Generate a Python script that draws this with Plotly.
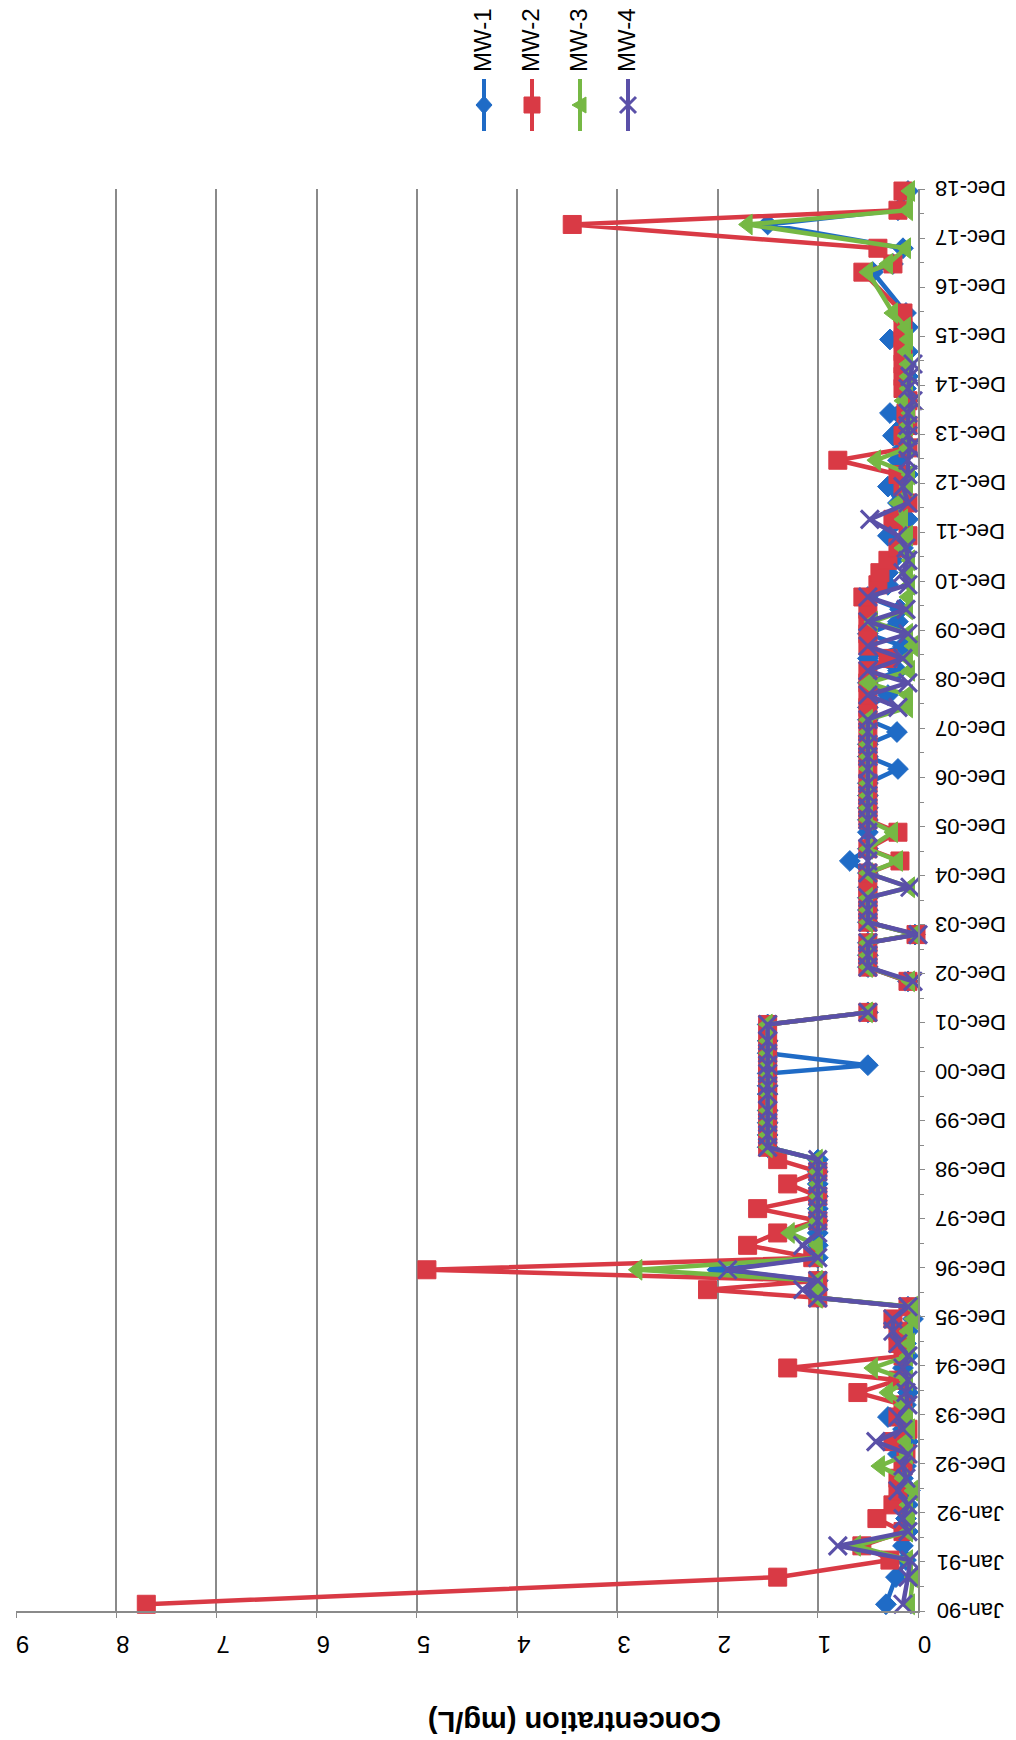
import pandas as pd
import plotly.graph_objects as go

# Monitoring-well sampling events (shared sample dates; None = no result)
sample_dates = [
    "1990-02-20", "1990-09-10", "1991-01-15", "1991-05-01", "1991-08-15", "1991-11-20",
    "1992-03-01", "1992-06-15", "1992-09-15", "1992-12-15", "1993-03-15", "1993-06-15",
    "1993-09-15", "1993-12-15", "1994-03-15", "1994-06-15", "1994-09-15", "1994-12-15",
    "1995-03-15", "1995-06-15", "1995-09-15", "1995-12-15",
    "1996-03-15", "1996-05-20", "1996-07-20", "1996-09-25", "1996-12-15", "1997-03-15",
    "1997-06-15", "1997-09-15", "1997-12-15", "1998-03-15", "1998-06-15", "1998-09-15",
    "1998-12-15", "1999-03-15", "1999-06-15", "1999-09-15", "1999-12-15", "2000-03-15",
    "2000-07-15", "2000-09-15", "2000-12-15", "2001-02-15", "2001-05-15", "2001-08-15",
    "2001-12-15",
    "2002-03-15", "2002-07-15", "2002-11-01", "2003-02-15", "2003-05-15", "2003-08-15",
    "2003-10-15", "2004-01-15", "2004-04-15", "2004-07-15", "2004-10-01", "2005-01-15",
    "2005-04-15", "2005-07-15", "2005-11-15", "2006-02-15", "2006-05-15", "2006-08-15",
    "2006-11-15", "2007-03-01", "2007-06-01", "2007-09-01", "2007-12-01", "2008-03-01",
    "2008-06-01", "2008-09-01", "2008-12-01", "2009-03-01", "2009-06-01", "2009-09-01",
    "2009-12-01", "2010-03-01", "2010-06-01", "2010-09-01", "2010-12-01",
    "2011-03-01", "2011-06-01", "2011-09-01", "2011-12-01", "2012-04-01", "2012-08-01",
    "2012-12-01", "2013-03-01", "2013-06-15", "2013-09-15", "2013-12-15", "2014-03-01",
    "2014-06-01", "2014-09-01", "2014-12-01", "2015-03-01", "2015-06-01", "2015-09-01",
    "2015-12-01", "2016-03-01", "2016-06-15", "2017-04-15", "2017-06-15", "2017-10-10",
    "2018-04-05", "2018-07-20", "2018-12-10",
]

mw1 = [
    0.32, 0.22, 0.12, 0.15, 0.10, 0.12,
    0.10, 0.08, 0.15, 0.12, 0.20, 0.10,
    0.15, 0.30, 0.12, 0.10, 0.18, 0.15,
    0.10, 0.12, 0.10, 0.05,
    0.10, 1.0, 1.0, 1.0, 2.0, 1.0,
    1.0, 1.0, 1.0, 1.0, 1.0, 1.0,
    1.0, 1.0, 1.5, 1.5, 1.5, 1.5,
    1.5, 1.5, 1.5, 0.5, 1.5, 1.5,
    1.5,
    0.5, None, 0.10, 0.5, 0.5, 0.5,
    0.03, 0.5, 0.5, 0.5, 0.5, 0.5,
    0.68, 0.5, 0.5, 0.5, 0.5, 0.5,
    0.5, 0.20, 0.5, 0.5, 0.21, 0.5,
    0.5, 0.30, 0.5, 0.20, 0.5, 0.15,
    0.5, 0.20, 0.18, 0.5, 0.30,
    0.30, 0.25, 0.15, 0.30, 0.10, 0.20,
    0.30, 0.10, 0.20, 0.15, 0.25, 0.15,
    0.28, 0.10, 0.12, 0.10, 0.12, 0.10,
    0.28, 0.10, 0.12, 0.45, 0.25, 0.15,
    1.5, 0.20, 0.10,
]

mw2 = [
    7.7, 1.4, 0.28, 0.56, 0.15, 0.41,
    0.25, 0.20, 0.20, 0.15, 0.12, 0.25,
    0.10, 0.20, 0.15, 0.60, 0.20, 1.3,
    0.15, 0.20, 0.20, 0.25,
    0.10, 1.0, 2.1, 1.0, 4.9, 1.05,
    1.7, 1.4, 1.0, 1.6, 1.0, 1.3,
    1.0, 1.4, 1.5, 1.5, 1.5, 1.5,
    1.5, 1.5, 1.5, 1.5, 1.5, 1.5,
    1.5,
    0.5, None, 0.10, 0.5, 0.5, 0.5,
    0.02, 0.5, 0.5, 0.5, 0.5, 0.5,
    0.18, 0.5, 0.20, 0.5, 0.5, 0.5,
    0.5, 0.5, 0.5, 0.5, 0.5, 0.5,
    0.5, 0.5, 0.5, 0.5, 0.30, 0.5,
    0.5, 0.5, 0.5, 0.55, 0.40,
    0.38, 0.30, 0.20, 0.10, 0.25, 0.10,
    0.15, 0.20, 0.80, 0.10, 0.15, 0.10,
    0.12, 0.10, 0.15, 0.15, 0.15, 0.15,
    0.15, 0.15, 0.15, 0.55, 0.25, 0.40,
    3.45, 0.20, 0.15,
]

mw3 = [
    0.08, 0.05, 0.10, 0.62, 0.10, 0.08,
    0.10, 0.05, 0.15, 0.38, 0.10, 0.12,
    0.08, 0.10, 0.15, 0.30, 0.10, 0.45,
    0.10, 0.08, 0.10, 0.05,
    0.05, 1.0, 1.0, 1.0, 2.8, 1.0,
    1.0, 1.28, 1.0, 1.0, 1.0, 1.0,
    1.0, 1.0, 1.5, 1.5, 1.5, 1.5,
    1.5, 1.5, 1.5, 1.5, 1.5, 1.5,
    1.5,
    0.5, None, 0.08, 0.5, 0.5, 0.5,
    0.03, 0.5, 0.5, 0.5, 0.08, 0.5,
    0.20, 0.5, 0.25, 0.5, 0.5, 0.5,
    0.5, 0.5, 0.5, 0.5, 0.5, 0.5,
    0.10, 0.10, 0.5, 0.08, 0.10, 0.05,
    0.10, 0.45, 0.10, 0.10, 0.08,
    0.10, 0.08, 0.15, 0.10, 0.15, 0.20,
    0.10, 0.08, 0.42, 0.10, 0.12, 0.10,
    0.08, 0.15, 0.10, 0.10, 0.10, 0.12,
    0.10, 0.12, 0.25, 0.50, 0.30, 0.12,
    1.7, 0.10, 0.08,
]

mw4 = [
    0.15, 0.10, 0.08, 0.80, 0.10, 0.15,
    0.10, 0.20, 0.12, 0.15, 0.10, 0.42,
    0.15, 0.20, 0.10, 0.12, 0.10, 0.15,
    0.10, 0.20, 0.25, 0.25,
    0.10, 1.0, 1.15, 1.0, 1.9, 1.0,
    1.15, 1.0, 1.0, 1.0, 1.0, 1.0,
    1.0, 1.0, 1.5, 1.5, 1.5, 1.5,
    1.5, 1.5, 1.5, 1.5, 1.5, 1.5,
    1.5,
    0.5, None, 0.05, 0.5, 0.5, 0.5,
    0.0, 0.5, 0.5, 0.5, 0.08, 0.5,
    0.5, 0.5, 0.5, 0.5, 0.5, 0.5,
    0.5, 0.5, 0.5, 0.5, 0.5, 0.5,
    0.20, 0.5, 0.10, 0.5, 0.15, 0.5,
    0.10, 0.5, 0.12, 0.5, 0.10,
    0.15, 0.10, 0.12, 0.20, 0.48, 0.10,
    0.15, 0.10, 0.10, 0.08, 0.10, 0.10,
    0.10, 0.05, 0.10, 0.08, 0.05, None,
    None, None, None, None, None, None,
    None, None, None,
]

well_names = ["MW-1", "MW-2", "MW-3", "MW-4"]
well_values = [mw1, mw2, mw3, mw4]

# Date-axis labels, one every 365 days starting 1 Jan 1990
date_tick_labels = [
    "Jan-90", "Jan-91", "Jan-92", "Dec-92", "Dec-93", "Dec-94", "Dec-95", "Dec-96",
    "Dec-97", "Dec-98", "Dec-99", "Dec-00", "Dec-01", "Dec-02", "Dec-03", "Dec-04",
    "Dec-05", "Dec-06", "Dec-07", "Dec-08", "Dec-09", "Dec-10", "Dec-11", "Dec-12",
    "Dec-13", "Dec-14", "Dec-15", "Dec-16", "Dec-17", "Dec-18",
]
conc_ticks = [0, 1, 2, 3, 4, 5, 6, 7, 8, 9]

# ---- styling ----
colors = ["#1F6BC6", "#D93A45", "#76B844", "#5A50A8"]
symbols = ["diamond", "square", "triangle-left", "x-thin"]
sizes = [16, 18, 18, 18]

W, H = 1016, 1740
L, R, T, B = 16, 98, 189, 129
FONT = "Liberation Sans, Arial, sans-serif"


def px_x(px):
    return (px - L) / (W - L - R)


def px_y(py):
    return (H - B - py) / (H - T - B)


axis_start = pd.Timestamp("1990-01-01")
tick_dates = [axis_start + pd.Timedelta(days=365 * k) for k in range(len(date_tick_labels))]
minor_dates = [axis_start + pd.Timedelta(days=365 * k + 182) for k in range(len(date_tick_labels) - 1)]
dates = pd.to_datetime(sample_dates)

fig = go.Figure()
for name, vals, col, sym, sz in zip(well_names, well_values, colors, symbols, sizes):
    marker = dict(symbol=sym, size=sz, color=col, line=dict(color=col, width=1))
    if sym == "x-thin":
        marker["line"] = dict(color=col, width=3)
    fig.add_trace(go.Scatter(
        x=vals, y=dates, name=name, mode="lines+markers",
        line=dict(color=col, width=4.5), marker=marker,
        connectgaps=False, showlegend=False, cliponaxis=False,
    ))

grid_col = "#8a8a8a"
fig.update_layout(
    width=W, height=H,
    margin=dict(l=L, r=R, t=T, b=B, pad=0),
    paper_bgcolor="white", plot_bgcolor="white",
    font=dict(family=FONT, size=22, color="black"),
    xaxis=dict(
        range=[9, 0], tickvals=conc_ticks, ticktext=[str(v) for v in conc_ticks],
        tickangle=180, showgrid=True, gridcolor=grid_col, gridwidth=1.5,
        zeroline=False, showline=True, linecolor=grid_col, linewidth=1.5,
        ticks="outside", ticklen=5, tickcolor=grid_col, ticklabelstandoff=13,
        tickfont=dict(size=24, family=FONT),
    ),
    yaxis=dict(
        type="date", side="right",
        range=[tick_dates[0], tick_dates[-1]],
        tickvals=tick_dates, showticklabels=False,
        showgrid=False, zeroline=False,
        showline=True, linecolor=grid_col, linewidth=1.5,
        ticks="outside", ticklen=5, tickcolor=grid_col,
        minor=dict(tickvals=minor_dates, ticks="outside", ticklen=4, tickcolor=grid_col),
    ),
)

annotations = [
    dict(text="<b>Concentration (mg/L)</b>", textangle=180, showarrow=False,
         xref="paper", yref="paper", x=px_x(575), y=px_y(1722),
         xanchor="center", yanchor="middle", font=dict(size=29, family=FONT)),
]

# Date labels beside the date axis, upside down
for d, lab in zip(tick_dates, date_tick_labels):
    annotations.append(dict(text=lab, textangle=180, showarrow=False,
                            xref="paper", yref="y", x=px_x(971), y=d,
                            xanchor="center", yanchor="middle",
                            font=dict(size=22, family=FONT)))

shapes = []

# Legend: vertical sample lines with markers, labels reading upward
legend_x = [484, 532, 580, 628]
marker_paths = {
    "diamond": "M 0 9 L 8 0 L 0 -9 L -8 0 Z",
    "square": "M -8 -8 L 8 -8 L 8 8 L -8 8 Z",
    "triangle-left": "M -8 0 L 6 -8 L 6 8 Z",
    "x-thin": "M -8 -8 L 8 8 M -8 8 L 8 -8",
}
for name, col, sym, lx in zip(well_names, colors, symbols, legend_x):
    shapes.append(dict(type="line", xref="paper", yref="paper",
                       x0=px_x(lx), x1=px_x(lx), y0=px_y(79), y1=px_y(131),
                       line=dict(color=col, width=4)))
    is_x = sym == "x-thin"
    shapes.append(dict(type="path", xref="paper", yref="paper",
                       xsizemode="pixel", ysizemode="pixel",
                       xanchor=px_x(lx), yanchor=px_y(105),
                       path=marker_paths[sym],
                       fillcolor=None if is_x else col,
                       line=dict(color=col, width=3 if is_x else 1)))
    annotations.append(dict(text=name, textangle=-90, showarrow=False,
                            xref="paper", yref="paper", x=px_x(lx - 1), y=px_y(40),
                            xanchor="center", yanchor="middle",
                            font=dict(size=24, family=FONT)))

fig.update_layout(annotations=annotations, shapes=shapes)
fig.write_html("out.html")
